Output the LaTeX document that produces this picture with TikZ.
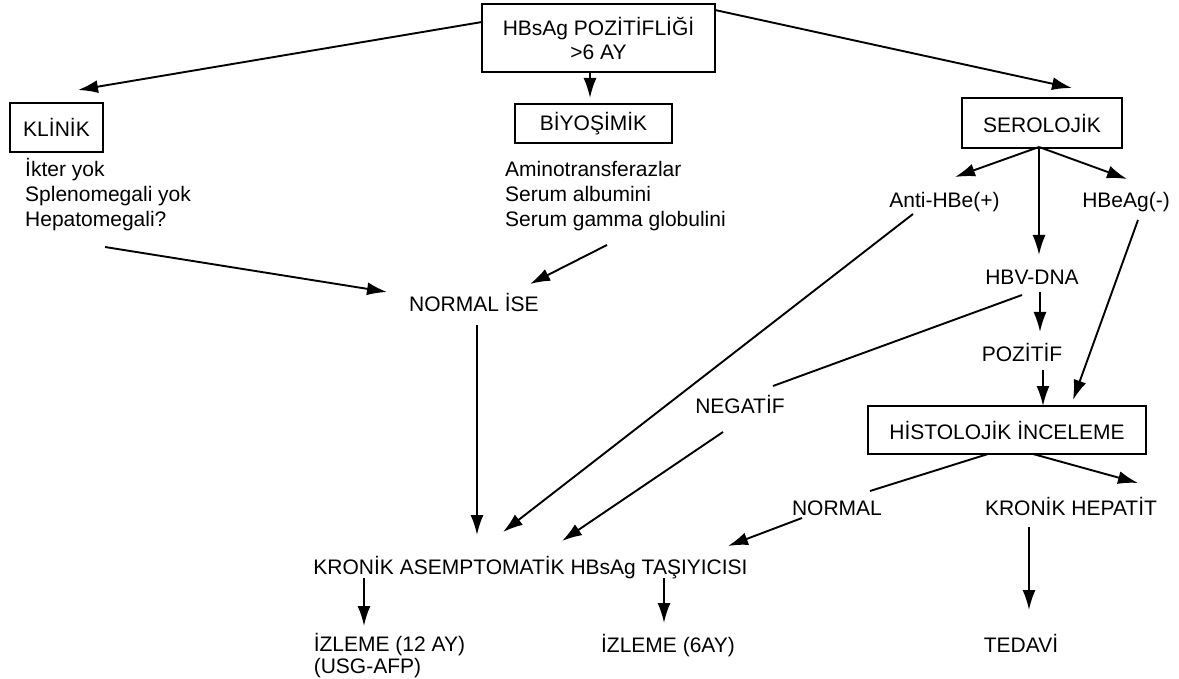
\documentclass[tikz,border=0pt]{standalone}
\usepackage{fontspec}
\setmainfont{Liberation Sans}
\usetikzlibrary{arrows.meta}

\begin{document}
\begin{tikzpicture}[
    x=1pt, y=-1pt,
    font=\fontsize{21}{25}\selectfont,
    box/.style={draw, line width=1.8pt, outer sep=0pt, align=center},
    lbl/.style={inner sep=0pt, anchor=base},
    lst/.style={inner sep=0pt, anchor=base west, align=left},
    arrow/.style={-{Latex[length=20pt,width=13pt]}, line width=1.9pt},
    link/.style={line width=1.9pt}
  ]
    \useasboundingbox (0,0) rectangle (1179,679);

    \node[box, minimum width=233pt, minimum height=68pt, font=\fontsize{21}{24}\selectfont] (top) at (598.5,38) {HBsAg POZİTİFLİĞİ\\>6 AY};
    \node[box, minimum width=93pt, minimum height=49pt] (klinik) at (56.5,127.5) {KLİNİK};
    \node[box, minimum width=157pt, minimum height=39pt] (biyo) at (593.5,123.5) {BİYOŞİMİK};
    \node[box, minimum width=160pt, minimum height=50pt] (sero) at (1042,123) {SEROLOJİK};
    \node[box, minimum width=278pt, minimum height=48pt] (histo) at (1007,430) {HİSTOLOJİK İNCELEME};

    \node[lst] (klist) at (25,227) {İkter yok\\Splenomegali yok\\Hepatomegali?};
    \node[lst] (blist) at (505,227) {Aminotransferazlar\\Serum albumini\\Serum gamma globulini};
    \node[lbl] (anti) at (944.5,208) {Anti-HBe(+)};
    \node[lbl] (hbeag) at (1126,208) {HBeAg(-)};
    \node[lbl] (hbv) at (1032,285) {HBV-DNA};
    \node[lbl] (poz) at (1022,362) {POZİTİF};
    \node[lbl] (neg) at (740,413) {NEGATİF};
    \node[lbl] (nise) at (474,312) {NORMAL İSE};
    \node[lbl] (normal) at (837,515) {NORMAL};
    \node[lbl] (kronhep) at (1071,515) {KRONİK HEPATİT};
    \node[lbl] (kas) at (530.5,574) {KRONİK ASEMPTOMATİK HBsAg TAŞIYICISI};
    \node[lst, font=\fontsize{21}{22}\selectfont] (izl12) at (313.6,673) {İZLEME (12 AY)\\(USG-AFP)};
    \node[lbl] (izl6) at (668,652) {İZLEME (6AY)};
    \node[lbl] (tedavi) at (1021,652) {TEDAVİ};

    \draw[arrow] ([yshift=16pt]top.west) -- ([xshift=21.5pt,yshift=13pt]klinik.north);
    \draw[arrow] ([xshift=-8.5pt]top.south) -- ([xshift=-3.5pt,yshift=6pt]biyo.north);
    \draw[arrow] ([yshift=-6pt]top.north east) -- ([xshift=30pt,yshift=10pt]sero.north);
    \draw[arrow] ([xshift=80pt,yshift=-20pt]klist.base west) -- ([xshift=-87pt,yshift=20pt]nise.base);
    \draw[arrow] ([xshift=102pt,yshift=-18pt]blist.base west) -- ([xshift=56pt,yshift=28pt]nise.base);
    \draw[arrow] ([xshift=-3pt,yshift=1pt]sero.south) -- ([xshift=10.5pt,yshift=31pt]anti.base);
    \draw[arrow] ([xshift=-3pt,yshift=1pt]sero.south) -- ([xshift=7pt,yshift=30pt]hbv.base);
    \draw[arrow] ([xshift=-3pt,yshift=1pt]sero.south) -- ([xshift=1pt,yshift=29pt]hbeag.base);
    \draw[arrow] ([xshift=8pt,yshift=-7pt]hbv.base) -- ([xshift=18pt,yshift=30pt]poz.base);
    \draw[link] ([xshift=-10pt,yshift=-10pt]hbv.base) -- ([xshift=33pt,yshift=27pt]neg.base);
    \draw[arrow] ([xshift=21pt,yshift=-8pt]poz.base) -- ([xshift=36pt]histo.north);
    \draw[arrow] ([xshift=12pt,yshift=-12pt]hbeag.base) -- ([xshift=66pt,yshift=6pt]histo.north);
    \draw[arrow] ([xshift=-31.5pt,yshift=-6pt]anti.base) -- ([xshift=-27.5pt,yshift=42pt]kas.base);
    \draw[arrow] ([xshift=-17pt,yshift=-19pt]neg.base) -- ([xshift=31.5pt,yshift=33pt]kas.base);
    \draw[arrow] ([xshift=3pt,yshift=-13pt]nise.base) -- ([xshift=-53.5pt,yshift=39pt]kas.base);
    \draw[link] ([xshift=-19pt]histo.south) -- ([xshift=33pt,yshift=24pt]normal.base);
    \draw[arrow] ([xshift=26pt]histo.south) -- ([xshift=67pt,yshift=32pt]kronhep.base);
    \draw[arrow] ([xshift=-35pt,yshift=-3pt]normal.base) -- ([xshift=197.5pt,yshift=28pt]kas.base);
    \draw[arrow] ([xshift=-166.5pt,yshift=-4pt]kas.base) -- ([xshift=50.4pt,yshift=47pt]izl12.base west);
    \draw[arrow] ([xshift=133.5pt,yshift=-4pt]kas.base) -- ([xshift=-4pt,yshift=29pt]izl6.base);
    \draw[arrow] ([xshift=-42pt,yshift=-12pt]kronhep.base) -- ([xshift=8pt,yshift=42pt]tedavi.base);
  \end{tikzpicture}
\end{document}
